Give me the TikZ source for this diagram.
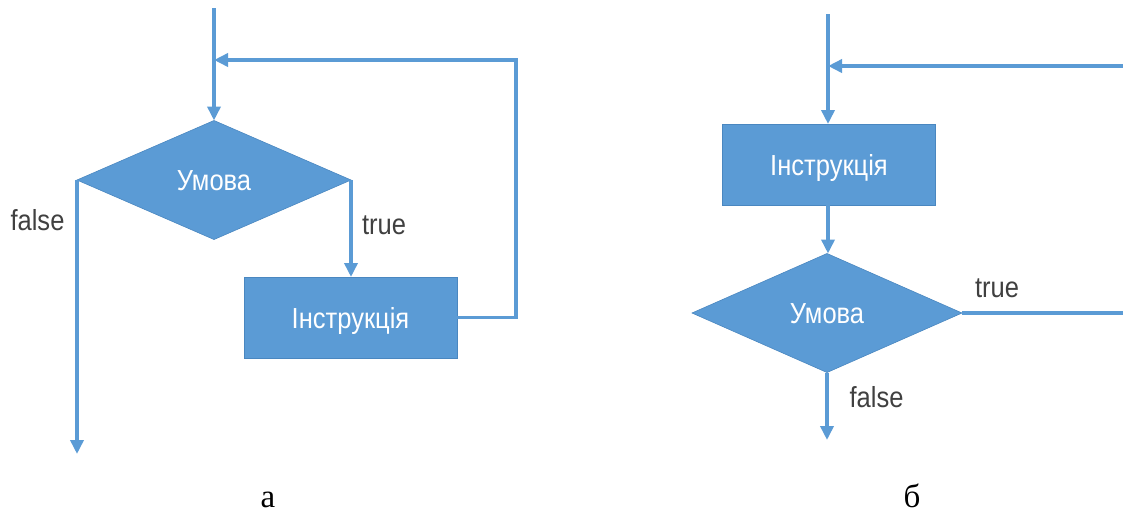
\documentclass[tikz,border=0pt]{standalone}
\usepackage{fontspec}
\setmainfont{Liberation Serif}
\newfontfamily\flowfont[FakeStretch=0.88]{Liberation Sans}
\usetikzlibrary{arrows.meta,shapes.geometric}
\definecolor{flowblue}{HTML}{5B9BD5}
\definecolor{flowedge}{HTML}{4A87C0}
\definecolor{labelgrey}{HTML}{404040}
\tikzset{
  x=1pt,y=-1pt,
  flowtext/.style={font=\flowfont\fontsize{29}{30}\selectfont,text height=24pt,text depth=3pt},
  flowbox/.style={rectangle,fill=flowblue,draw=flowedge,line width=0.6pt,minimum width=213pt,minimum height=81pt,inner sep=0pt,outer sep=0pt,text=white,flowtext},
  flowcond/.style={diamond,fill=flowblue,draw=flowedge,line width=0.6pt,minimum width=#1,minimum height=119pt,inner sep=0pt,outer sep=0pt,text=white,flowtext},
  flowlabel/.style={text=labelgrey,inner sep=0pt,flowtext},
  caption/.style={text=black,inner sep=0pt,anchor=base,font=\fontsize{33}{35}\selectfont},
  link/.style={draw=flowblue,line width=3.6pt},
  arrowlink/.style={link,-{Triangle[length=14pt,width=13pt]}},
}
\begin{document}
\begin{tikzpicture}
\useasboundingbox (0,0) rectangle (1123,515);
% ---- a ----
\node[flowcond=274pt] (da) at (214,180) {Умова};
\node[flowbox] (ia) at (350.5,317.5) {Інструкція};
\coordinate (topa) at (214,8);
\coordinate (joina) at (214,60);
\coordinate (corna) at (516,60);
\coordinate (enda) at (77,454);
\draw[arrowlink] (topa) -- (da.north);
\draw[arrowlink] (ia.east) -| (corna) -- (joina);
\draw[arrowlink] (da.east) -- (da.east |- ia.north);
\draw[arrowlink] (da.west) -- (enda);
\node[flowlabel] (fa) at (37.5,219.5) {false};
\node[flowlabel] (ta) at (384,223.5) {true};
\node[caption] (capa) at (268,507.5) {а};
% ---- б ----
\node[flowbox] (ib) at (829,164.5) {Інструкція};
\node[flowcond=270pt] (db) at (827,313) {Умова};
\coordinate (topb) at (828,14);
\coordinate (joinb) at (828,66);
\coordinate (retb) at (1123,66);
\coordinate (outb) at (1123,313);
\coordinate (endb) at (827,440);
\draw[arrowlink] (topb) -- (topb |- ib.north);
\draw[arrowlink] (retb) -- (joinb);
\draw[arrowlink] (ib.south -| topb) -- (topb |- db.north);
\draw[link] (db.east) -- (outb);
\draw[arrowlink] (db.south) -- (endb);
\node[flowlabel] (tb) at (997,286.5) {true};
\node[flowlabel] (fb) at (876.5,396.5) {false};
\node[caption] (capb) at (912,507.5) {б};
\end{tikzpicture}
\end{document}
